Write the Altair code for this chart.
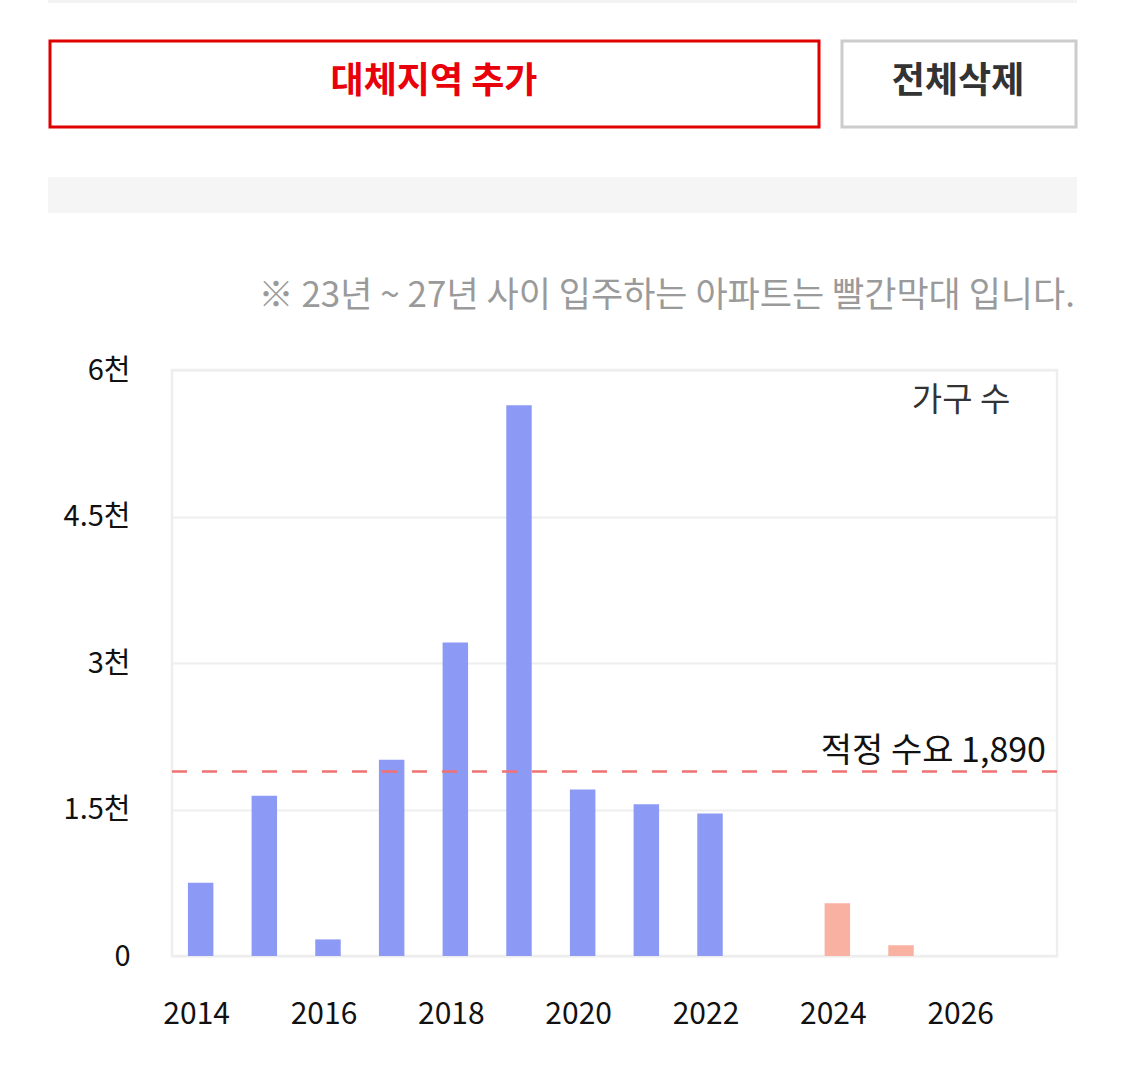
import altair as alt
import pandas as pd

years = [str(y) for y in range(2014, 2028)]
households = [750, 1640, 170, 2010, 3210, 5640, 1705, 1555, 1460, 0, 540, 110, 0, 0]
period = ["past"] * 9 + ["future"] * 5
demand = 1890
y_ticks = [0, 1500, 3000, 4500, 6000]

df = pd.DataFrame({"year": years, "value": households, "period": period})
one = pd.DataFrame({"k": [0]})
FONT = "Noto Sans CJK KR"

bars = alt.Chart(df).mark_bar().encode(
    x=alt.X("year:N", sort=years,
            scale=alt.Scale(paddingInner=0.6, paddingOuter=0.25),
            axis=alt.Axis(title=None, labelAngle=0, ticks=False, domain=False,
                          labelExpr="parseInt(datum.value) % 2 == 0 ? datum.value : ''",
                          labelFontSize=30, labelColor="#111", labelFont=FONT,
                          labelPadding=43, labelOffset=-4, grid=False)),
    y=alt.Y("value:Q", scale=alt.Scale(domain=[0, 6000], nice=False),
            axis=alt.Axis(title=None, values=y_ticks, ticks=False, domain=False,
                          labelExpr="datum.value == 0 ? '0' : format(datum.value/1000, '') + '천'",
                          labelFontSize=29, labelColor="#111", labelFont=FONT,
                          labelPadding=42, gridColor="#eeeeee", gridWidth=2)),
    color=alt.Color("period:N", scale=alt.Scale(domain=["past", "future"],
                                                range=["#8c9af6", "#f9b2a1"]),
                    legend=None),
)

rule = alt.Chart(one).mark_rule(color="#f07272", strokeWidth=2.5, strokeDash=[15, 15]).encode(
    y=alt.datum(demand), x=alt.value(0), x2=alt.value(888)
)
rule_text = alt.Chart(one).mark_text(align="right", baseline="bottom", fontSize=34,
                                     font=FONT, color="#111", dy=-2).encode(
    y=alt.datum(demand), x=alt.value(874), text=alt.value("적정 수요 1,890")
)
legend_text = alt.Chart(one).mark_text(align="center", baseline="middle", fontSize=33,
                                       font=FONT, color="#333").encode(
    x=alt.value(789), y=alt.value(31), text=alt.value("가구 수")
)

def rect(x1, x2, y1, y2, fill, stroke=None, sw=0):
    kw = dict(fill=fill)
    if stroke:
        kw.update(stroke=stroke, strokeWidth=sw)
    return alt.Chart(one).mark_rect(**kw).encode(
        x=alt.value(x1), x2=alt.value(x2), y=alt.value(y1), y2=alt.value(y2))

top_strip = rect(-124, 905, -370, -367, "#f3f3f3")
btn_red = rect(-122, 647, -329, -243, "#ffffff", "#e00000", 3)
btn_gray = rect(670, 904, -329, -243, "#ffffff", "#cccccc", 3)
band = rect(-124, 905, -193, -157, "#f5f5f5")

btn_red_text = alt.Chart(one).mark_text(align="center", baseline="middle", fontSize=36,
                                        fontWeight="bold", font=FONT, color="#e8000b").encode(
    x=alt.value(262), y=alt.value(-288), text=alt.value("대체지역 추가"))
btn_gray_text = alt.Chart(one).mark_text(align="center", baseline="middle", fontSize=36,
                                         fontWeight="bold", font=FONT, color="#333333").encode(
    x=alt.value(786), y=alt.value(-288), text=alt.value("전체삭제"))
note_text = alt.Chart(one).mark_text(align="right", baseline="middle", fontSize=35,
                                     font=FONT, color="#9a9a9a").encode(
    x=alt.value(903), y=alt.value(-74),
    text=alt.value("※ 23년 ~ 27년 사이 입주하는 아파트는 빨간막대 입니다."))

chart = alt.layer(
    top_strip, btn_red, btn_gray, band, btn_red_text, btn_gray_text, note_text,
    bars, rule, rule_text, legend_text
).properties(
    width=885, height=586,
    padding={"left": 172, "top": 370, "right": 68, "bottom": 119},
    autosize="none",
    background="#ffffff",
).configure_view(stroke="#eeeeee", strokeWidth=2.5)

chart.save("out.html", embed_options={"renderer": "svg", "actions": False})
